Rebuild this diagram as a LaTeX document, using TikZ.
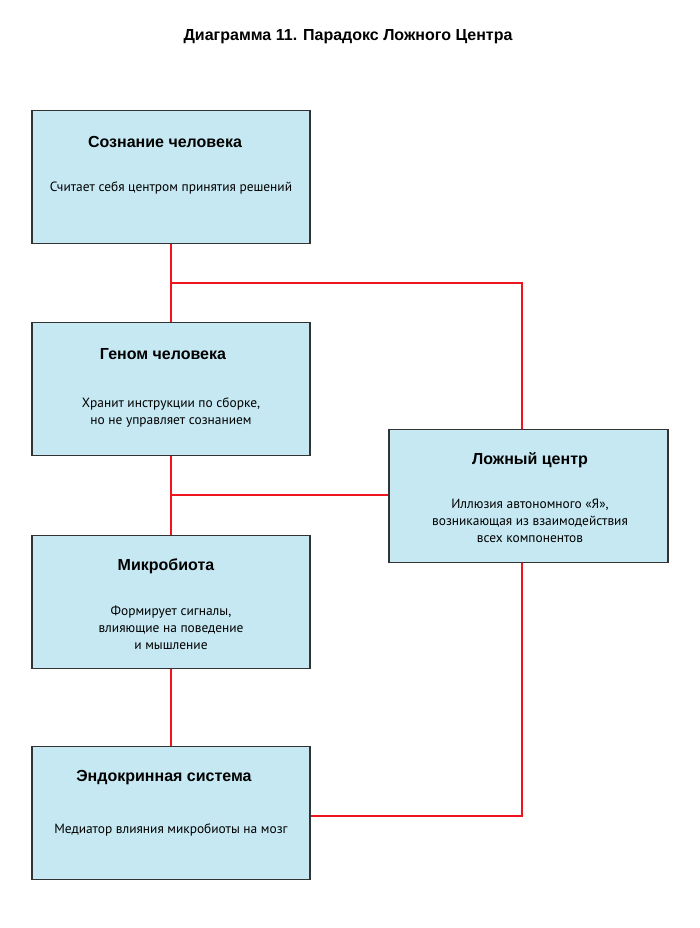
\documentclass[tikz,border=0pt]{standalone}
\usepackage{fontspec}
\setmainfont{Liberation Sans}
\newfontfamily\bodyfont{PT Sans}
\definecolor{boxfill}{HTML}{C5E8F3}
\definecolor{boxline}{HTML}{333333}
\definecolor{linkred}{HTML}{F0141E}
\begin{document}
\begin{tikzpicture}[x=1pt,y=-1pt,
  box/.style={draw=boxline,line width=1.6pt,fill=boxfill,minimum width=278pt,minimum height=133pt,inner sep=0pt},
  ttl/.style={font=\fontsize{16}{18}\selectfont\bfseries,text=black,inner sep=0pt},
  txt/.style={font=\bodyfont\fontsize{13.4}{17}\selectfont,align=center,text=black,inner sep=0pt},
  link/.style={draw=linkred,line width=2.6pt}]
\useasboundingbox (0,0) rectangle (700,928);
\node[font=\fontsize{16}{18}\selectfont\bfseries,inner sep=0pt] (title) at (348,37) {Диаграмма 11. Парадокс Ложного Центра};
% boxes
\node[box] (b1) at (171,177) {};
\node[box] (b2) at (171,389) {};
\node[box,minimum width=279pt] (lc) at (528.5,496) {};
\node[box] (b3) at (171,602) {};
\node[box] (b4) at (171,813) {};
% texts
\node[ttl] (t1) at (165,142) {Сознание человека};
\node[txt] (d1) at (171,188) {Считает себя центром принятия решений};
\node[ttl] (t2) at (163,354) {Геном человека};
\node[txt] (d2) at (171,413) {Хранит инструкции по сборке,\\но не управляет сознанием};
\node[ttl] (t3) at (530,460) {Ложный центр};
\node[txt] (d3) at (530,521) {Иллюзия автономного «Я»,\\возникающая из взаимодействия\\всех компонентов};
\node[ttl] (t4) at (166,566) {Микробиота};
\node[txt] (d4) at (171,628) {Формирует сигналы,\\влияющие на поведение\\и мышление};
\node[ttl] (t5) at (164,778) {Эндокринная система};
\node[txt] (d5) at (171,830) {Медиатор влияния микробиоты на мозг};
% connectors
\coordinate (j1) at (171,283);
\coordinate (j2) at (171,495);
\coordinate (r1) at (522,283);
\coordinate (r2) at (522,816);
\draw[link] (b1.south) -- (b2.north);
\draw[link] (b2.south) -- (b3.north);
\draw[link] (b3.south) -- (b4.north);
\draw[link,line join=miter] (j1) -- (r1) -- (r1 |- lc.north);
\draw[link] (j2) -- (j2 -| lc.west);
\draw[link,line join=miter] (r1 |- lc.south) -- (r2) -- (r2 -| b4.east);
\end{tikzpicture}
\end{document}
